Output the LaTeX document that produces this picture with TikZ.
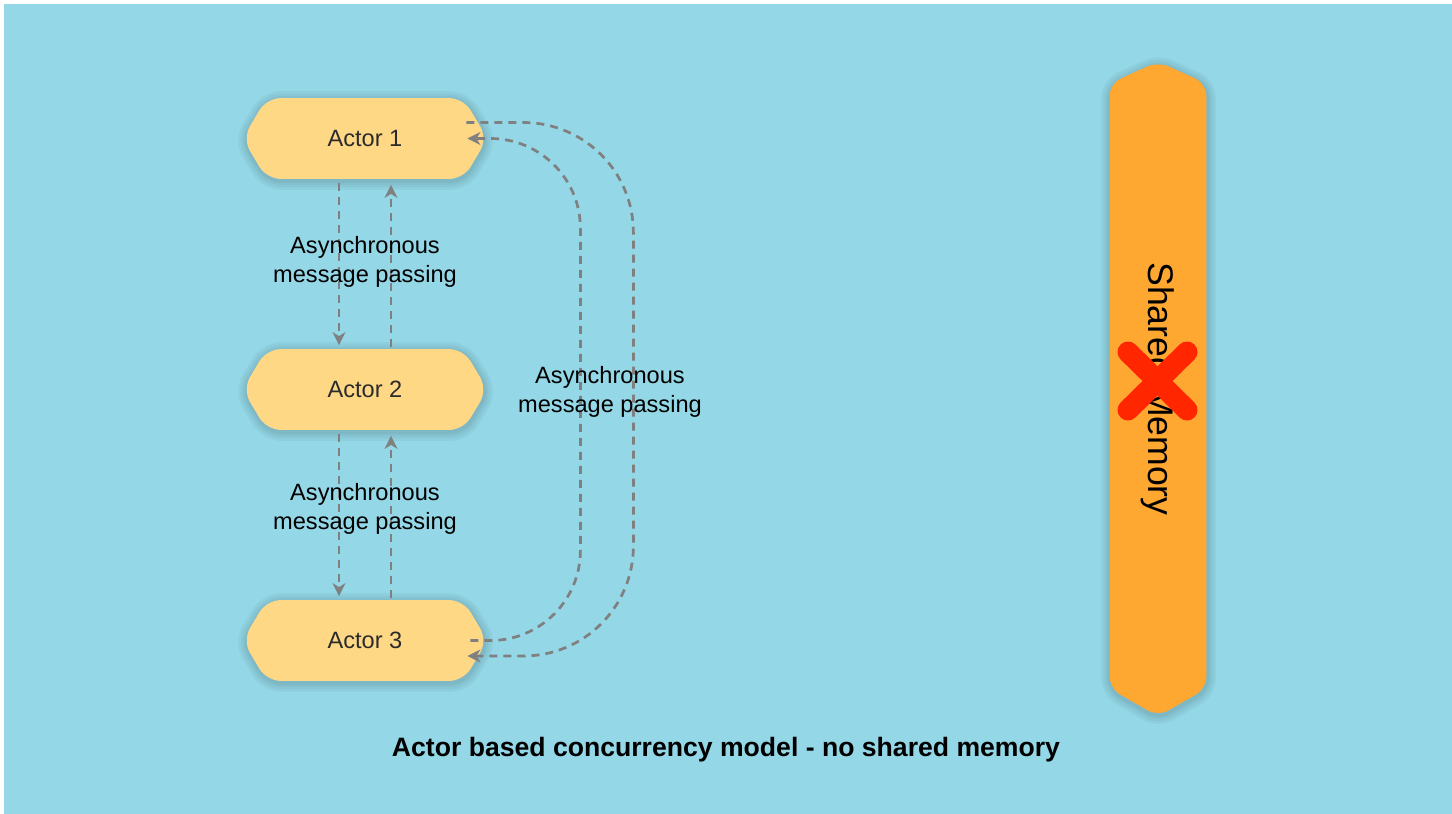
\documentclass[tikz,border=0pt]{standalone}
\usepackage{fontspec}
\setmainfont{Liberation Sans}
\usetikzlibrary{arrows.meta,calc,backgrounds}
\definecolor{bgblue}{HTML}{94D7E6}
\definecolor{actorfill}{HTML}{FED885}
\definecolor{memfill}{HTML}{FEA832}
\definecolor{msggray}{HTML}{808080}
\definecolor{crossred}{HTML}{FF2600}
\definecolor{actortext}{HTML}{2B2B2B}
\tikzset{
  haloring/.style={preaction={draw=black, draw opacity=0.035, line width=#1,
      line join=round, transform canvas={xshift=0.3pt, yshift=-1pt}}},
  softshadow/.style={haloring=9pt, haloring=6.5pt, haloring=4pt, haloring=2pt},
  actor/.style={minimum width=98pt, minimum height=40pt, inner sep=0pt,
      text=actortext, font=\fontsize{11.8}{14}\selectfont},
  hexfill/.style={fill=actorfill, rounded corners=7pt, softshadow},
  membar/.style={minimum width=48pt, minimum height=302pt, inner sep=0pt},
  memfillstyle/.style={fill=memfill, rounded corners=6pt, softshadow},
  memtext/.style={rotate=-90, font=\fontsize{17.8}{20}\selectfont, inner sep=0pt},
  crossline/.style={draw=crossred, line width=10.5pt, line cap=round},
  msg/.style={draw=msggray, line width=1.35pt, dash pattern=on 4pt off 3pt,
      -{Stealth[length=6.5pt,width=6.5pt,inset=2pt]}},
  msglabel/.style={align=center, font=\fontsize{11.8}{14.5}\selectfont, inner sep=0pt},
  titletext/.style={font=\bfseries\fontsize{13.3}{16}\selectfont, inner sep=0pt},
}
\begin{document}
\begin{tikzpicture}[x=0.5pt,y=-0.5pt]
\useasboundingbox (0,0) rectangle (1452,814);
\begin{scope}[on background layer]
  \fill[white] (0,0) rectangle (1452,814);
  \fill[bgblue] (4,4) rectangle (1452,814);
\end{scope}

% actors
\node[actor] (a1) at (365,138.5) {Actor 1};
\node[actor] (a2) at (365,389.5) {Actor 2};
\node[actor] (a3) at (365,640.5) {Actor 3};
\begin{scope}[on background layer]
  \foreach \a in {a1,a2,a3}{
    \fill[hexfill] ([xshift=-12pt]\a.west) -- (\a.north west) -- (\a.north east)
      -- ([xshift=12pt]\a.east) -- (\a.south east) -- (\a.south west) -- cycle;
  }
\end{scope}

% shared memory bar
\node[membar] (mem) at (1158,386) {};
\begin{scope}[on background layer]
  \fill[memfillstyle] (mem.north west) -- ([yshift=11pt]mem.north) -- (mem.north east)
    -- (mem.south east) -- ([yshift=-14pt]mem.south) -- (mem.south west) -- cycle;
\end{scope}
\node[memtext] (memlabel) at (1158,389) {Shared Memory};
\coordinate (xc) at (1157.5,381);
\draw[crossline] ($(xc)+(-29.5,-29)$) -- ($(xc)+(29.5,29)$);
\draw[crossline] ($(xc)+(29.5,-29)$) -- ($(xc)+(-29.5,29)$);

% messages between neighbours
\draw[msg] ([xshift=-13pt,yshift=-2pt]a1.south) -- ([xshift=-13pt,yshift=2pt]a2.north);
\draw[msg] ([xshift=13pt,yshift=1pt]a2.north) -- ([xshift=13pt,yshift=-3pt]a1.south);
\draw[msg] ([xshift=-13pt,yshift=-2pt]a2.south) -- ([xshift=-13pt,yshift=2pt]a3.north);
\draw[msg] ([xshift=13pt,yshift=1pt]a3.north) -- ([xshift=13pt,yshift=-3pt]a2.south);

% messages between actor 1 and actor 3
\draw[msg, rounded corners=55pt] ($(a1.east)+(3,-16)$) -- ($(a1.east)+(170,-16)$)
  -- ($(a3.east)+(170,15.5)$) -- ($(a3.east)+(4,15.5)$);
\draw[msg, rounded corners=45pt] ($(a3.east)+(7,0)$) -- ($(a3.east)+(117,0)$)
  -- ($(a1.east)+(117,0)$) -- ($(a1.east)+(4,0)$);

% labels
\node[msglabel] (l12) at (365,262) {Asynchronous\\message passing};
\node[msglabel] (l23) at (365,509) {Asynchronous\\message passing};
\node[msglabel] (l13) at (610,392) {Asynchronous\\message passing};

\node[titletext] (title) at (726,750) {Actor based concurrency model - no shared memory};
\end{tikzpicture}
\end{document}
